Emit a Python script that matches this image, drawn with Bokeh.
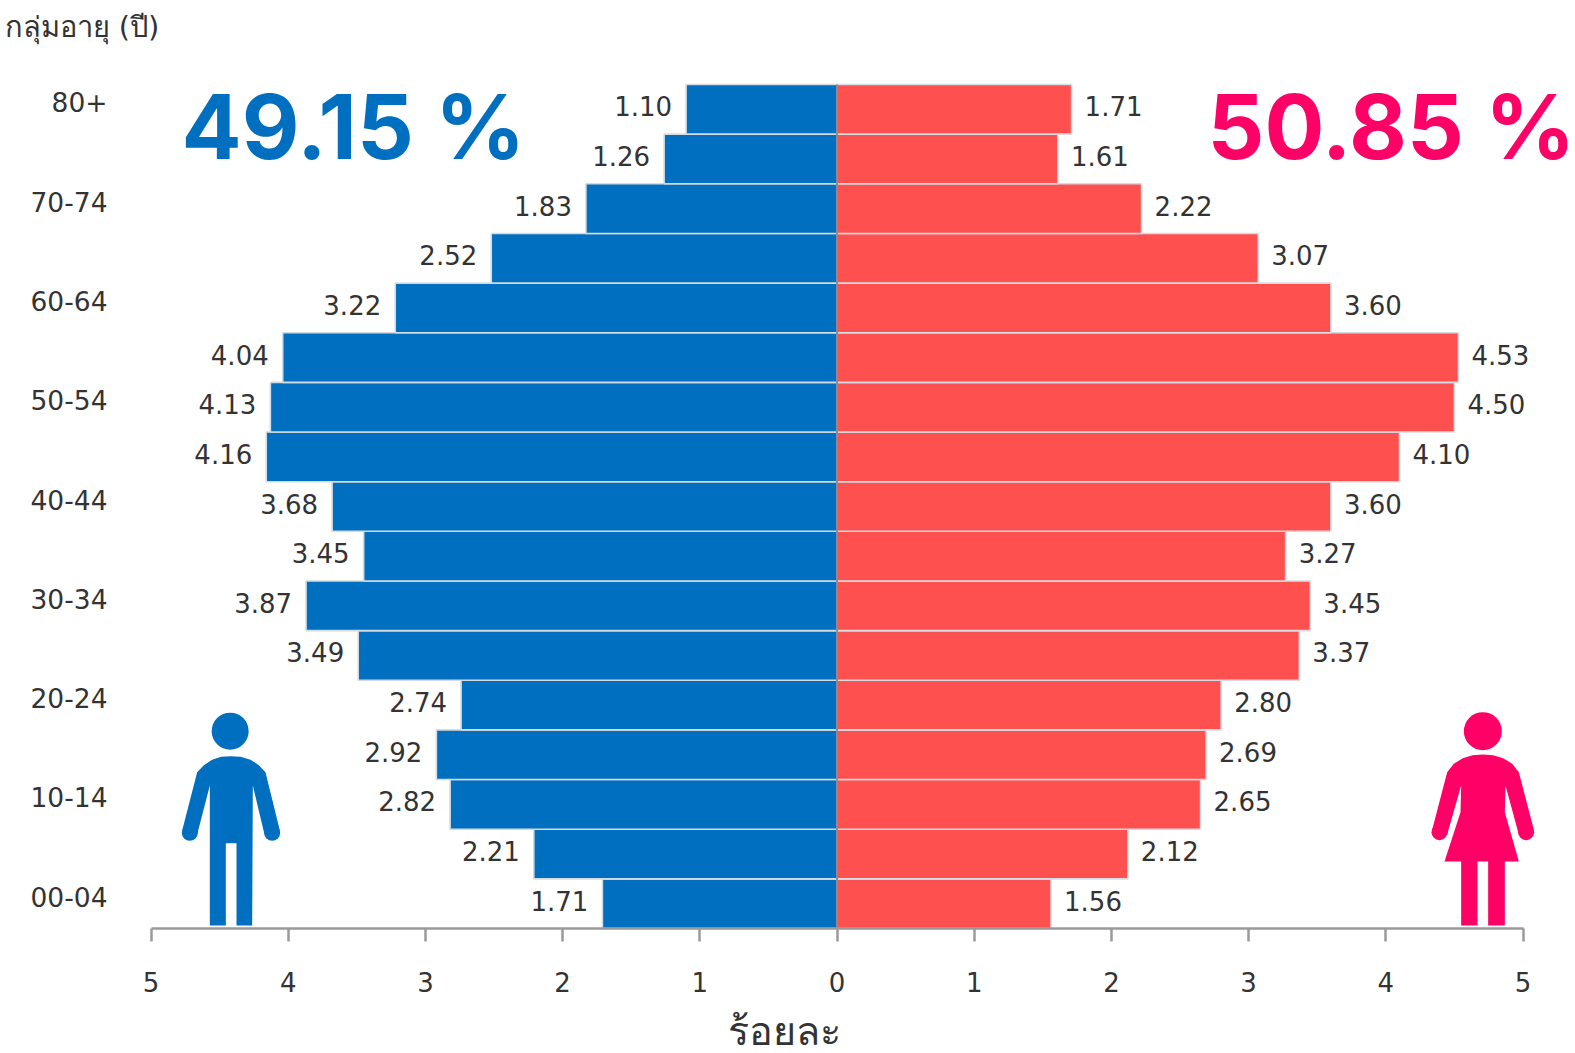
from bokeh.plotting import figure
from bokeh.models import Label, FixedTicker, Range1d, ColumnDataSource, Title
from bokeh.core.properties import value
from bokeh.embed import file_html
from bokeh.resources import INLINE

ages = ["00-04","05-09","10-14","15-19","20-24","25-29","30-34","35-39","40-44",
        "45-49","50-54","55-59","60-64","65-69","70-74","75-79","80+"]
male = [1.71,2.21,2.82,2.92,2.74,3.49,3.87,3.45,3.68,4.16,4.13,4.04,3.22,2.52,1.83,1.26,1.10]
female = [1.56,2.12,2.65,2.69,2.80,3.37,3.45,3.27,3.60,4.10,4.50,4.53,3.60,3.07,2.22,1.61,1.71]
x_ticks = [-5,-4,-3,-2,-1,0,1,2,3,4,5]
male_total = "49.15 %"
female_total = "50.85 %"
y_title = "กลุ่มอายุ (ปี)"
x_title = "ร้อยละ"

BLUE = "#016fc0"; RED = "#ff5050"; PINK = "#ff0066"; TXT = "#333333"; FONT = "DejaVu Sans"; BIG = "Inter"
X5L, X5R, BAR_TOP, AXIS_Y = 150.5, 1522.5, 84, 928   # window pixels
W, H = 1575, 1053
FRAME_L, FRAME_T = 115, 50

ppx = (X5R-X5L)/10; ppy = (AXIS_Y-BAR_TOP)/len(ages)
def dx(px): return (px-(X5L+X5R)/2)/ppx
def dy(py): return -0.5+(AXIS_Y-py)/ppy

p = figure(width=W, height=H, output_backend="svg", toolbar_location=None,
           x_range=Range1d(dx(FRAME_L), dx(W)), y_range=Range1d(dy(H), dy(FRAME_T)),
           min_border_left=FRAME_L, min_border_right=0,
           min_border_top=FRAME_T, min_border_bottom=0)
p.outline_line_color = None
p.grid.visible = False
p.background_fill_color = "white"

rows = list(range(len(ages)))
src = ColumnDataSource(dict(y=rows, age=ages, m=[-v for v in male], f=female,
                            ml=[f"{v:.2f}" for v in male], fl=[f"{v:.2f}" for v in female]))
EDGE = "#d5dbe0"
p.hbar(y="y", left="m", right=0, height=1, source=src, fill_color=BLUE, line_color=EDGE, line_width=1.6)
p.hbar(y="y", left=0, right="f", height=1, source=src, fill_color=RED, line_color=EDGE, line_width=1.6)
p.segment(x0=[0], x1=[0], y0=[-0.5], y1=[len(ages)-0.5], line_color="#7f8f9f", line_width=2)

LS = "26px"
p.text(x="m", y="y", text="ml", source=src, x_offset=-14, y_offset=-3, text_align="right", text_baseline="middle",
       text_font=value(FONT), text_font_size=LS, text_color=TXT)
p.text(x="f", y="y", text="fl", source=src, x_offset=13, y_offset=-3, text_align="left", text_baseline="middle",
       text_font=value(FONT), text_font_size=LS, text_color=TXT)

# axes
ax = p.xaxis[0]
ax.fixed_location = -0.5
ax.bounds = (-5, 5)
ax.ticker = FixedTicker(ticks=x_ticks)
ax.major_label_overrides = {t: str(abs(t)) for t in x_ticks}
ax.axis_line_color = "#9a9a9a"; ax.axis_line_width = 2.5
ax.major_tick_line_color = "#9a9a9a"; ax.major_tick_line_width = 2.5
ax.major_tick_in = 0; ax.major_tick_out = 13; ax.minor_tick_line_color = None
ax.major_label_standoff = 30
ax.major_label_text_font = FONT; ax.major_label_text_font_size = LS; ax.major_label_text_color = TXT

ay = p.yaxis[0]
shift = 7/ppy
shown = rows[::2]
ay.ticker = FixedTicker(ticks=[i+shift for i in shown])
ay.major_label_overrides = {i+shift: ages[i] for i in shown}
ay.axis_line_color = None; ay.major_tick_line_color = None; ay.minor_tick_line_color = None
ay.major_label_standoff = 2
ay.major_label_text_font = FONT; ay.major_label_text_font_size = "26.5px"; ay.major_label_text_color = TXT

# text
def lab(t, px, py, size, color, font=FONT, style="normal", align="left"):
    p.add_layout(Label(x=dx(px), y=dy(py), text=t, text_font=font, text_font_size=size,
                       text_color=color, text_font_style=style, text_align=align, text_baseline="middle"))
lab(male_total, 181, 126, "89px", BLUE, BIG, "bold")
lab(female_total, 1207, 126, "89px", PINK, BIG, "bold")
lab(x_title, 783.5, 1030, "39.5px", TXT, align="center")
p.add_layout(Title(text=y_title, align="left", offset=-111, standoff=14, text_font=FONT, text_font_size="29px",
                   text_font_style="normal", text_color=TXT), "above")

# icons, outlined in pixels of the window
man = [(300,197),(330,199),(360,208),(385,224),(405,245),(448,420),(402,432),(367,285),(365,705),(318,705),(318,458),
       (286,458),(286,705),(238,705),(238,285),(200,432),(155,420),(200,245),(220,224),(245,208),(272,199)]
woman = [(397,192),(428,194),(458,203),(485,220),(505,245),(550,418),(505,432),(465,285),(463,365),(505,513),(463,513),
         (463,705),(413,705),(413,513),(381,513),(381,705),(332,705),(332,513),(282,513),(330,365),(332,285),
         (290,432),(245,418),(290,245),(310,220),(337,203),(366,194)]
def icon(points, ox, oy, color, head, hands):
    p.patch([dx(ox+a/3) for a, b in points], [dy(oy+b/3) for a, b in points], fill_color=color, line_color=None)
    p.scatter([dx(ox+head[0]/3)], [dy(oy+head[1]/3)], size=head[2], color=color, line_color=None)
    p.scatter([dx(ox+a/3) for a, b in hands], [dy(oy+b/3) for a, b in hands], size=16, color=color, line_color=None)
icon(man, 130, 690, BLUE, (299,122,37), [(178,427),(425,427)])
icon(woman, 1350, 690, PINK, (397,122,38), [(267,425),(527,425)])

open("out.html", "w").write(file_html(p, INLINE))
